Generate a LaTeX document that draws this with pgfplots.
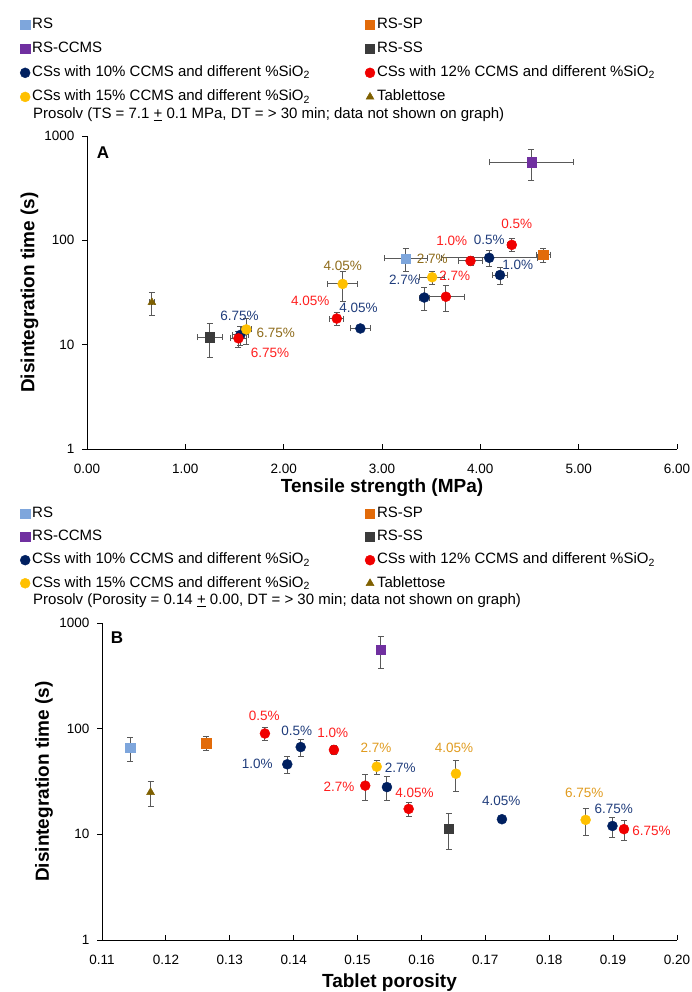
\documentclass[border=0pt]{standalone}
\usepackage{pgfplots}
\usepackage{pgfplotstable}
\pgfplotsset{compat=1.18}
\usepackage{fontspec}
\setmainfont{Liberation Sans}
\definecolor{cRS}{HTML}{7EA6DC}
\definecolor{cSP}{HTML}{E26B0A}
\definecolor{cCCMS}{HTML}{7030A0}
\definecolor{cSS}{HTML}{3B3B3B}
\definecolor{cBlue}{HTML}{002060}
\definecolor{cRed}{HTML}{F00000}
\definecolor{cYel}{HTML}{FFC000}
\definecolor{cTab}{HTML}{7F6000}
\definecolor{errgray}{HTML}{595959}
\definecolor{lBlue}{HTML}{203D7C}
\definecolor{lRed}{HTML}{FF1F1F}
\definecolor{lBrown}{HTML}{8E6B1A}
\definecolor{lGold}{HTML}{E09B1F}

\tikzset{lab/.style={font=\fontsize{13.5}{16}\selectfont, inner sep=0pt}}

% Panel A: tensile strength (MPa), DT (s), SD of each
\pgfplotstableread[row sep=\\]{x y ex ey\\ 3.24 67 0.22 17\\}\aRS
\pgfplotstableread[row sep=\\]{x y ex ey\\ 4.64 73 0.07 11\\}\aSP
\pgfplotstableread[row sep=\\]{x y ex ey\\ 4.52 560 0.43 185\\}\aCC
\pgfplotstableread[row sep=\\]{x y ex ey\\ 1.25 11.8 0.13 4.2\\}\aSS
\pgfplotstableread[row sep=\\]{x y ex ey\\ 4.09 68 0.49 12\\ 4.20 46.5 0.08 8.5\\ 3.43 28.3 0.05 7\\ 2.78 14.3 0.10 1\\ 1.56 12.4 0.08 2.5\\}\aBl
\pgfplotstableread[row sep=\\]{x y ex ey\\ 4.32 90.5 0.04 13\\ 3.90 63.5 0.12 6.5\\ 3.65 28.8 0.19 8\\ 2.54 17.8 0.07 2.5\\ 1.54 11.5 0.08 2\\}\aRe
\pgfplotstableread[row sep=\\]{x y ex ey\\ 3.51 44.3 0.13 6.5\\ 2.60 38.2 0.15 12\\ 1.62 14 0.05 4\\}\aYe
\pgfplotstableread[row sep=\\]{x y ex ey\\ 0.66 25.4 0.03 6.5\\}\aTa
% Panel B: porosity, DT (s), SD of DT
\pgfplotstableread[row sep=\\]{x y ey\\ 0.1144 66 17\\}\bRS
\pgfplotstableread[row sep=\\]{x y ey\\ 0.1263 73 11\\}\bSP
\pgfplotstableread[row sep=\\]{x y ey\\ 0.1536 560 185\\}\bCC
\pgfplotstableread[row sep=\\]{x y ey\\ 0.1643 11.4 4.2\\}\bSS
\pgfplotstableread[row sep=\\]{x y ey\\ 0.1411 67 12\\ 0.1390 46 8.5\\ 0.1546 28 7\\ 0.1726 13.9 0.5\\ 0.1899 12 2.6\\}\bBl
\pgfplotstableread[row sep=\\]{x y ey\\ 0.1355 90 13\\ 0.1463 63 6.5\\ 0.1512 28.9 8\\ 0.1580 17.4 2.5\\ 0.1917 11.2 2.4\\}\bRe
\pgfplotstableread[row sep=\\]{x y ey\\ 0.1530 43.7 6.5\\ 0.1654 37.5 12\\ 0.1857 13.7 4\\}\bYe
\pgfplotstableread[row sep=\\]{x y ey\\ 0.1176 25 6.5\\}\bTa

\pgfplotsset{
  errxy/.style={forget plot, only marks, mark=none,
    error bars/.cd, x dir=both, x explicit, y dir=both, y explicit,
    error bar style={line width=0.9pt, draw=errgray},
    error mark options={rotate=90, line width=0.9pt, mark size=3pt, draw=errgray}},
  erry/.style={forget plot, only marks, mark=none,
    error bars/.cd, y dir=both, y explicit,
    error bar style={line width=0.9pt, draw=errgray},
    error mark options={rotate=90, line width=0.9pt, mark size=3pt, draw=errgray}},
  msq/.style={only marks, mark=square*, mark size=4.6pt, mark options={draw=#1, fill=#1}},
  mci/.style={only marks, mark=*, mark size=5pt, mark options={draw=#1, fill=#1}},
  mtr/.style={only marks, mark=triangle*, mark size=4.6pt, mark options={draw=#1, fill=#1}},
}

\begin{document}
\begin{tikzpicture}
\useasboundingbox (0pt,0pt) rectangle (692pt,-992pt);

% ---------------- Panel A ----------------
\begin{axis}[
  scale only axis,
  at={(87pt,-449pt)}, anchor=south west, width=590pt, height=313pt,
  ymode=log, ymin=1, ymax=1000,
  ytick={1,10,100,1000}, yticklabels={1,10,100,1000},
  yminorticks=false,
  axis x line=bottom, axis y line=left,
  axis line style={-, line width=0.9pt, black},
  tick align=outside,
  major tick length=5pt,
  tick style={line width=0.9pt, black},
  xtick style={yshift=5pt},
  tick label style={font=\fontsize{13.5}{16}\selectfont},
  xticklabel style={yshift=-7pt},
  yticklabel style={xshift=-4pt},
  label style={font=\bfseries\fontsize{19}{22}\selectfont},
  clip=false,
  legend columns=2,
  legend cell align=left,
  legend style={draw=none, fill=none, anchor=north west, inner sep=0pt,
    font=\fontsize{15}{18}\selectfont,
    nodes={text height=11pt, text depth=3.5pt, inner ysep=4.8pt},
    /tikz/every even column/.append style={column sep=53pt}},
  xmin=0, xmax=6, xtick={0,1,2,3,4,5,6},
  xticklabels={0.00,1.00,2.00,3.00,4.00,5.00,6.00},
  xlabel={Tensile strength (MPa)}, ylabel={Disintegration time (s)},
  xlabel style={at={(axis description cs:0.5,-0.125)}, anchor=center},
  ylabel style={at={(axis description cs:-0.0975,0.5)}, anchor=center},
  legend style={at={(axis description cs:-0.1136,1.395)}},
]
\addplot[errxy] table[x=x,y=y,x error=ex,y error=ey] {\aRS};
\addplot[errxy] table[x=x,y=y,x error=ex,y error=ey] {\aSP};
\addplot[errxy] table[x=x,y=y,x error=ex,y error=ey] {\aCC};
\addplot[errxy] table[x=x,y=y,x error=ex,y error=ey] {\aSS};
\addplot[errxy] table[x=x,y=y,x error=ex,y error=ey] {\aBl};
\addplot[errxy] table[x=x,y=y,x error=ex,y error=ey] {\aRe};
\addplot[errxy] table[x=x,y=y,x error=ex,y error=ey] {\aYe};
\addplot[errxy] table[x=x,y=y,x error=ex,y error=ey] {\aTa};

\addplot[msq=cRS] table[x=x,y=y] {\aRS};
\addlegendentry{RS}
\addplot[msq=cSP] table[x=x,y=y] {\aSP};
\addlegendentry{RS-SP}
\addplot[msq=cCCMS] table[x=x,y=y] {\aCC};
\addlegendentry{RS-CCMS}
\addplot[msq=cSS] table[x=x,y=y] {\aSS};
\addlegendentry{RS-SS}
\addplot[mci=cBlue] table[x=x,y=y] {\aBl};
\addlegendentry{CSs with 10\% CCMS and different \%SiO\textsubscript{2}}
\addplot[mci=cRed] table[x=x,y=y] {\aRe};
\addlegendentry{CSs with 12\% CCMS and different \%SiO\textsubscript{2}}
\addplot[mci=cYel] table[x=x,y=y] {\aYe};
\addlegendentry{CSs with 15\% CCMS and different \%SiO\textsubscript{2}}
\addplot[mtr=cTab] table[x=x,y=y] {\aTa};
\addlegendentry{Tablettose}

\node[lab, text=lRed] at (axis cs:4.37,143) {0.5\%};
\node[lab, text=lRed] at (axis cs:3.71,98) {1.0\%};
\node[lab, text=lBlue] at (axis cs:4.09,101) {0.5\%};
\node[lab, text=lBlue] at (axis cs:4.38,58) {1.0\%};
\node[lab, text=lBrown] at (axis cs:3.51,66) {2.7\%};
\node[lab, text=lBlue] at (axis cs:3.23,42) {2.7\%};
\node[lab, text=lRed] at (axis cs:3.74,46) {2.7\%};
\node[lab, text=lBrown] at (axis cs:2.60,57) {4.05\%};
\node[lab, text=lRed] at (axis cs:2.27,26.5) {4.05\%};
\node[lab, text=lBlue] at (axis cs:2.76,22.3) {4.05\%};
\node[lab, text=lBlue] at (axis cs:1.55,18.7) {6.75\%};
\node[lab, text=lBrown] at (axis cs:1.92,12.9) {6.75\%};
\node[lab, text=lRed] at (axis cs:1.86,8.3) {6.75\%};
\end{axis}
\node[anchor=west, font=\fontsize{15}{18}\selectfont, inner sep=0pt] at (33pt,-115pt)
  {Prosolv (TS = 7.1 \underline{+} 0.1 MPa, DT = > 30 min; data not shown on graph)};
\node[font=\bfseries\fontsize{17}{20}\selectfont] at (103pt,-153pt) {A};

% ---------------- Panel B ----------------
\begin{axis}[
  scale only axis,
  at={(102pt,-940pt)}, anchor=south west, width=575pt, height=317pt,
  ymode=log, ymin=1, ymax=1000,
  ytick={1,10,100,1000}, yticklabels={1,10,100,1000},
  yminorticks=false,
  axis x line=bottom, axis y line=left,
  axis line style={-, line width=0.9pt, black},
  tick align=outside,
  major tick length=5pt,
  tick style={line width=0.9pt, black},
  xtick style={yshift=5pt},
  tick label style={font=\fontsize{13.5}{16}\selectfont},
  xticklabel style={yshift=-7pt},
  yticklabel style={xshift=-4pt},
  label style={font=\bfseries\fontsize{19}{22}\selectfont},
  clip=false,
  legend columns=2,
  legend cell align=left,
  legend style={draw=none, fill=none, anchor=north west, inner sep=0pt,
    font=\fontsize{15}{18}\selectfont,
    nodes={text height=11pt, text depth=3.5pt, inner ysep=4.3pt},
    /tikz/every even column/.append style={column sep=53pt}},
  xmin=0.11, xmax=0.20,
  xtick={0.11,0.12,0.13,0.14,0.15,0.16,0.17,0.18,0.19,0.20},
  xticklabels={0.11,0.12,0.13,0.14,0.15,0.16,0.17,0.18,0.19,0.20},
  xlabel={Tablet porosity}, ylabel={Disintegration time (s)},
  xlabel style={at={(axis description cs:0.5,-0.135)}, anchor=center},
  ylabel style={at={(axis description cs:-0.1010,0.5)}, anchor=center},
  legend style={at={(axis description cs:-0.1426,1.381)}},
]
\addplot[erry] table[x=x,y=y,y error=ey] {\bRS};
\addplot[erry] table[x=x,y=y,y error=ey] {\bSP};
\addplot[erry] table[x=x,y=y,y error=ey] {\bCC};
\addplot[erry] table[x=x,y=y,y error=ey] {\bSS};
\addplot[erry] table[x=x,y=y,y error=ey] {\bBl};
\addplot[erry] table[x=x,y=y,y error=ey] {\bRe};
\addplot[erry] table[x=x,y=y,y error=ey] {\bYe};
\addplot[erry] table[x=x,y=y,y error=ey] {\bTa};

\addplot[msq=cRS] table[x=x,y=y] {\bRS};
\addlegendentry{RS}
\addplot[msq=cSP] table[x=x,y=y] {\bSP};
\addlegendentry{RS-SP}
\addplot[msq=cCCMS] table[x=x,y=y] {\bCC};
\addlegendentry{RS-CCMS}
\addplot[msq=cSS] table[x=x,y=y] {\bSS};
\addlegendentry{RS-SS}
\addplot[mci=cBlue] table[x=x,y=y] {\bBl};
\addlegendentry{CSs with 10\% CCMS and different \%SiO\textsubscript{2}}
\addplot[mci=cRed] table[x=x,y=y] {\bRe};
\addlegendentry{CSs with 12\% CCMS and different \%SiO\textsubscript{2}}
\addplot[mci=cYel] table[x=x,y=y] {\bYe};
\addlegendentry{CSs with 15\% CCMS and different \%SiO\textsubscript{2}}
\addplot[mtr=cTab] table[x=x,y=y] {\bTa};
\addlegendentry{Tablettose}

\node[lab, text=lRed] at (axis cs:0.1354,133) {0.5\%};
\node[lab, text=lBlue] at (axis cs:0.1405,95) {0.5\%};
\node[lab, text=lRed] at (axis cs:0.1461,91.6) {1.0\%};
\node[lab, text=lBlue] at (axis cs:0.1343,46.4) {1.0\%};
\node[lab, text=lGold] at (axis cs:0.1529,66) {2.7\%};
\node[lab, text=lBlue] at (axis cs:0.1567,42.2) {2.7\%};
\node[lab, text=lRed] at (axis cs:0.1471,28.3) {2.7\%};
\node[lab, text=lRed] at (axis cs:0.1589,24.7) {4.05\%};
\node[lab, text=lGold] at (axis cs:0.1651,65.3) {4.05\%};
\node[lab, text=lBlue] at (axis cs:0.1725,20.8) {4.05\%};
\node[lab, text=lGold] at (axis cs:0.1855,24.8) {6.75\%};
\node[lab, text=lBlue] at (axis cs:0.1901,17.4) {6.75\%};
\node[lab, text=lRed] at (axis cs:0.1960,10.8) {6.75\%};
\end{axis}
\node[anchor=west, font=\fontsize{15}{18}\selectfont, inner sep=0pt] at (33pt,-601pt)
  {Prosolv (Porosity = 0.14 \underline{+} 0.00, DT = > 30 min; data not shown on graph)};
\node[font=\bfseries\fontsize{17}{20}\selectfont] at (117pt,-638pt) {B};
\end{tikzpicture}
\end{document}
